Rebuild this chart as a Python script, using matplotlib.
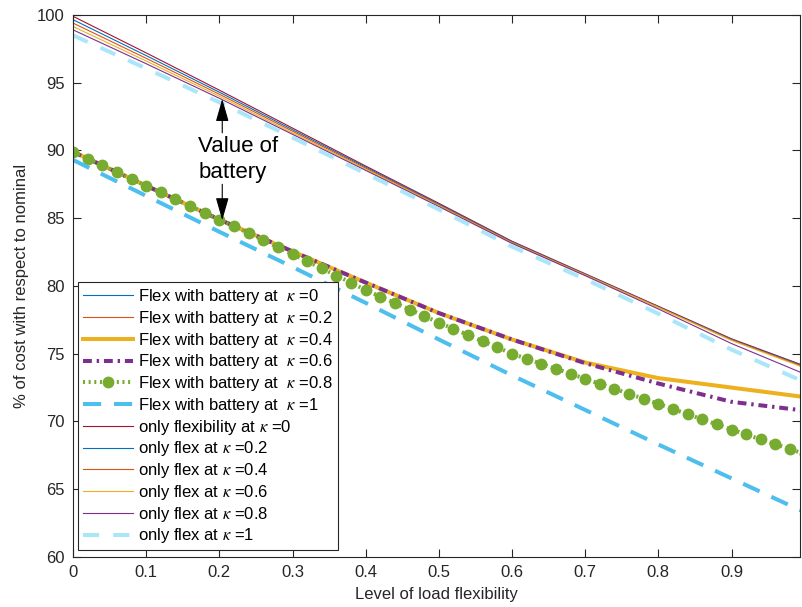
import numpy as np
import matplotlib
matplotlib.use("Agg")
import matplotlib.pyplot as plt

plt.rcParams['font.family'] = ['Liberation Sans', 'DejaVu Sans']
plt.rcParams['mathtext.fontset'] = 'stix'
plt.rcParams['font.size'] = 12

# x grid for most curves (level of load flexibility)
x = [0.0, 0.1, 0.2, 0.3, 0.4, 0.5, 0.6, 0.7, 0.8, 0.9, 1.0]

# only flexibility (no battery), kappa = 0 ... 1
flex_k0 = [99.9, 97.2, 94.45, 91.65, 88.85, 86.1, 83.3, 80.9, 78.5, 76.1, 74.1]
flex_k02 = [99.65, 97.0, 94.3, 91.53, 88.77, 86.04, 83.26, 80.87, 78.47, 76.06, 74.05]
flex_k04 = [99.4, 96.8, 94.15, 91.42, 88.69, 85.98, 83.22, 80.84, 78.44, 76.02, 74.0]
flex_k06 = [99.15, 96.6, 94.0, 91.3, 88.61, 85.92, 83.18, 80.81, 78.41, 75.98, 73.95]
flex_k08 = [98.9, 96.4, 93.85, 91.19, 88.53, 85.86, 83.14, 80.76, 78.3, 75.75, 73.5]
flex_k1 = [98.5, 96.05, 93.55, 90.95, 88.3, 85.65, 82.9, 80.5, 77.95, 75.3, 72.9]

# flexibility with battery
bat_k0 = [89.9, 87.4, 84.9, 82.55, 80.25, 78.0, 76.05, 74.35, 73.2, 72.5, 71.8]
bat_k02 = [89.9, 87.4, 84.9, 82.55, 80.25, 78.0, 76.05, 74.35, 73.2, 72.5, 71.8]
bat_k04 = [89.9, 87.4, 84.9, 82.55, 80.25, 78.0, 76.05, 74.35, 73.2, 72.5, 71.8]
bat_k06 = [89.9, 87.4, 84.9, 82.55, 80.25, 78.0, 76.05, 74.3, 72.8, 71.45, 70.8]
bat_k1 = [89.3, 86.65, 84.0, 81.4, 78.75, 76.05, 73.4, 70.85, 68.3, 65.8, 63.3]

# kappa = 0.8 with battery, finer grid (one marker per point)
x_fine = [0.00, 0.02, 0.04, 0.06, 0.08, 0.10, 0.12, 0.14, 0.16, 0.18,
          0.20, 0.22, 0.24, 0.26, 0.28, 0.30, 0.32, 0.34, 0.36, 0.38,
          0.40, 0.42, 0.44, 0.46, 0.48, 0.50, 0.52, 0.54, 0.56, 0.58,
          0.60, 0.62, 0.64, 0.66, 0.68, 0.70, 0.72, 0.74, 0.76, 0.78,
          0.80, 0.82, 0.84, 0.86, 0.88, 0.90, 0.92, 0.94, 0.96, 0.98, 1.00]
bat_k08 = [89.9, 89.4, 88.9, 88.4, 87.9, 87.4, 86.9, 86.4, 85.9, 85.4,
           84.9, 84.4, 83.9, 83.38, 82.86, 82.34, 81.82, 81.3, 80.77, 80.24,
           79.7, 79.22, 78.74, 78.26, 77.78, 77.3, 76.84, 76.38, 75.92, 75.46,
           75.0, 74.63, 74.26, 73.89, 73.52, 73.15, 72.78, 72.41, 72.04, 71.67,
           71.3, 70.92, 70.54, 70.16, 69.78, 69.4, 69.04, 68.68, 68.32, 67.96, 67.6]

blue = (0, 0.447, 0.741)
orange = (0.85, 0.325, 0.098)
yellow = (0.929, 0.694, 0.125)
purple = (0.494, 0.184, 0.556)
green = (0.466, 0.674, 0.188)
cyan = (0.301, 0.745, 0.933)
red = (0.635, 0.078, 0.184)
light_cyan = '#aae6fa'
dark = '#262626'

fig = plt.figure(figsize=(8.02, 6.07), dpi=100)
ax = fig.add_axes([0.091, 0.0824, 0.906, 0.893])

thin = 0.8
thick = 2.9
ax.plot(x, bat_k0, color=blue, lw=thin, label=r'Flex with battery at  $\kappa$ =0')
ax.plot(x, bat_k02, color=orange, lw=thin, label=r'Flex with battery at  $\kappa$ =0.2')
ax.plot(x, bat_k04, color=yellow, lw=thick, label=r'Flex with battery at  $\kappa$ =0.4')
ax.plot(x, bat_k06, color=purple, lw=thick, ls=(0, (2.2, 1.2, 0.6, 1.2)),
        label=r'Flex with battery at  $\kappa$ =0.6')
ax.plot(x_fine, bat_k08, color=green, lw=thick, ls=(0, (0.5, 0.9)), marker='o',
        markersize=7.5, markeredgecolor=green, label=r'Flex with battery at  $\kappa$ =0.8')
ax.plot(x, bat_k1, color=cyan, lw=thick, ls=(0, (4.5, 3.2)),
        label=r'Flex with battery at  $\kappa$ =1')
ax.plot(x, flex_k0, color=red, lw=thin, label=r'only flexibility at $\kappa$ =0')
ax.plot(x, flex_k02, color=blue, lw=thin, label=r'only flex at $\kappa$ =0.2')
ax.plot(x, flex_k04, color=orange, lw=thin, label=r'only flex at $\kappa$ =0.4')
ax.plot(x, flex_k06, color=yellow, lw=thin, label=r'only flex at $\kappa$ =0.6')
ax.plot(x, flex_k08, color=purple, lw=thin, label=r'only flex at $\kappa$ =0.8')
ax.plot(x, flex_k1, color=light_cyan, lw=thick, ls=(0, (4.0, 3.5)),
        label=r'only flex at $\kappa$ =1')

# "Value of battery" annotation
arrow_x = 0.204
ax.text(0.171, 89.35, 'Value of\nbattery', fontsize=16, color='black',
        ha='left', va='center', linespacing=1.3)
arrow = dict(arrowstyle='-|>,head_length=1.4,head_width=0.4', color='black',
             lw=0.8, mutation_scale=10, shrinkA=0, shrinkB=0)
ax.annotate('', xy=(arrow_x, 93.8), xytext=(arrow_x, 91.3), arrowprops=arrow)
ax.annotate('', xy=(arrow_x, 84.85), xytext=(arrow_x, 87.5), arrowprops=arrow)

ax.set_xlim(0, 0.993)
ax.set_ylim(60, 100)
ax.set_xticks(np.arange(0, 1.0, 0.1))
ax.set_xticklabels(['0', '0.1', '0.2', '0.3', '0.4', '0.5', '0.6', '0.7', '0.8', '0.9'])
ax.set_yticks(np.arange(60, 101, 5))
ax.tick_params(direction='in', length=6, width=0.8, top=True, right=True,
               colors=dark, labelsize=12, pad=6)
for s in ax.spines.values():
    s.set_color(dark)
    s.set_linewidth(0.8)

ax.set_xlabel('Level of load flexibility', fontsize=12, color=dark, labelpad=5)
ax.set_ylabel('% of cost with respect to nominal', fontsize=12, color=dark, labelpad=6)

leg = ax.legend(loc='lower left', bbox_to_anchor=(0.007, 0.012), borderaxespad=0,
                fontsize=12, handlelength=3.0, handletextpad=0.3, labelspacing=0.165,
                fancybox=False, framealpha=1, edgecolor=dark, borderpad=0.3)
leg.get_frame().set_linewidth(0.8)

fig.savefig('out.png', dpi=100)
